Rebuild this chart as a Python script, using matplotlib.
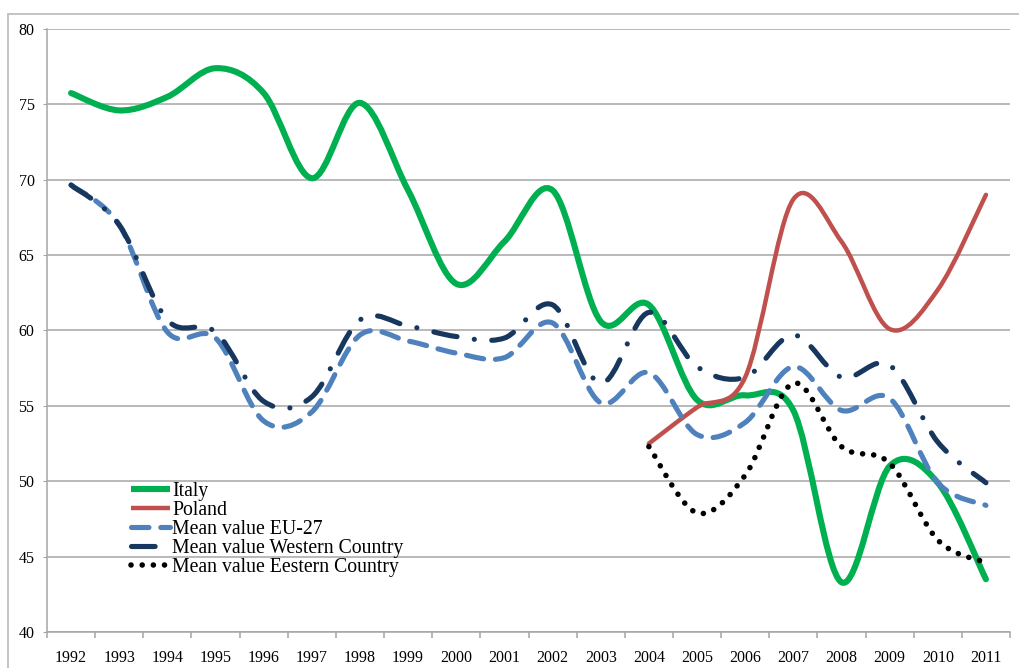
import numpy as np
import matplotlib
matplotlib.use("Agg")
import matplotlib.pyplot as plt
from matplotlib.path import Path
from matplotlib.patches import PathPatch, Rectangle
from matplotlib.lines import Line2D

plt.rcParams['font.family'] = ['Liberation Serif', 'DejaVu Serif']

# ---------------- data ----------------
years = [str(y) for y in range(1992, 2012)]
nan = np.nan

italy = [75.75, 74.6, 75.5, 77.4, 75.75, 70.1, 75.1, 69.3, 63.1, 65.9,
         69.3, 60.6, 61.7, 55.4, 55.7, 54.7, 43.3, 51.0, 49.9, 43.5]
poland = [nan] * 12 + [52.5, 54.9, 56.9, 68.7, 65.9, 60.1, 62.7, 69.0]
eu27 = [69.65, 67.0, 59.9, 59.5, 54.0, 54.6, 59.7, 59.3, 58.5, 58.2,
        60.5, 55.2, 57.2, 53.1, 53.9, 57.6, 54.7, 55.5, 49.9, 48.4]
western = [69.65, 67.0, 60.7, 59.9, 55.3, 55.6, 60.7, 60.3, 59.6, 59.5,
           61.7, 56.5, 61.2, 57.6, 56.9, 59.7, 56.9, 57.7, 52.6, 49.9]
eastern = [nan] * 12 + [52.3, 47.9, 50.4, 56.5, 52.3, 51.2, 46.1, 44.6]

labels = ['Italy', 'Poland', 'Mean value EU-27',
          'Mean value Western Country', 'Mean value Eestern Country']
series = [italy, poland, eu27, western, eastern]
colors = ['#00B050', '#C0504D', '#4F81BD', '#17375E', '#000000']
widths = [4.4, 3.2, 3.7, 3.7, 4.0]
styles = ['-', '-', (0, (3.4, 2.3)), (0, (4.6, 3.4, 0.01, 3.4)), (0, (0.01, 2.0))]


def smooth_path(x, y):
    # Excel-like smoothed line: cubic Bezier segments through the points
    p = np.column_stack([x, y])
    n = len(p)
    verts = [p[0]]
    codes = [Path.MOVETO]
    for i in range(n - 1):
        p0 = p[i - 1] if i > 0 else p[i]
        p1 = p[i]
        p2 = p[i + 1]
        p3 = p[i + 2] if i + 2 < n else p[i + 1]
        verts += [p1 + (p2 - p0) / 6.0, p2 - (p3 - p1) / 6.0, p2]
        codes += [Path.CURVE4] * 3
    return Path(np.array(verts), codes)


fig = plt.figure(figsize=(10.2, 6.68), dpi=100)
W, H = 1020.0, 668.0
ax = fig.add_axes([47 / W, 1 - 632 / H, 963 / W, 603 / H])

xs = np.arange(len(years))
handles = []
for vals, lab, c, lw, ls in zip(series, labels, colors, widths, styles):
    v = np.array(vals, dtype=float)
    m = ~np.isnan(v)
    patch = PathPatch(smooth_path(xs[m], v[m]), fill=False, edgecolor=c,
                      lw=lw, linestyle=ls, capstyle='round', joinstyle='round',
                      zorder=3)
    ax.add_patch(patch)
    handles.append(Line2D([], [], color=c, lw=lw, linestyle=ls,
                          dash_capstyle='round', solid_capstyle='butt'))

ax.set_xlim(-0.5, len(years) - 0.5)
ax.set_ylim(40, 80)
ax.set_yticks(np.arange(40, 81, 5))
ax.set_xticks(xs)
ax.set_xticklabels(years)
ax.set_xticks(np.arange(-0.5, len(years), 1.0), minor=True)

grid_c = '#A6A6A6'
ax.yaxis.grid(True, color=grid_c, lw=1.1)
ax.set_axisbelow(True)
for s in ['top', 'right']:
    ax.spines[s].set_visible(False)
for s in ['left', 'bottom']:
    ax.spines[s].set_color(grid_c)
    ax.spines[s].set_linewidth(1.1)

ax.tick_params(axis='y', direction='out', length=3, color=grid_c,
               labelsize=11.5, pad=6)
ax.tick_params(axis='x', which='major', length=0, labelsize=11.5, pad=13)
ax.tick_params(axis='x', which='minor', direction='out', length=4,
               color=grid_c, width=1.1)

leg = ax.legend(handles, labels, loc='upper left',
                bbox_to_anchor=((131 - 47) / 963, (632 - 482) / 603),
                frameon=False, fontsize=14.2, borderpad=0, borderaxespad=0,
                handlelength=2.0, handletextpad=0.1, labelspacing=0.0)

# outer chart border
fig.patches.append(Rectangle((8 / W, -0.1), 1.2, 1.1 - 14 / H,
                             transform=fig.transFigure, fill=False,
                             edgecolor='#BFBFBF', lw=1.3, clip_on=False))

fig.savefig('out.png', dpi=100)
plt.close(fig)
